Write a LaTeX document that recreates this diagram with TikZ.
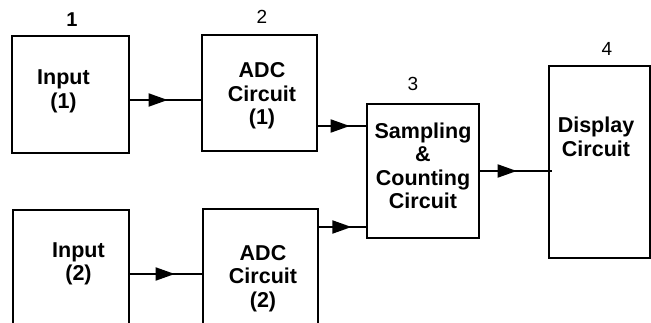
\documentclass[tikz,border=0pt]{standalone}
\usepackage{fontspec}
\setmainfont{Liberation Sans}
\usetikzlibrary{arrows.meta,decorations.markings}

\begin{document}
\begin{tikzpicture}[
  x=1pt, y=-1pt,
  block/.style = {draw, line width=1.8pt, inner sep=0pt},
  txt/.style   = {font=\fontsize{21.5}{23.5}\selectfont\bfseries, align=center, inner sep=0pt},
  num/.style   = {font=\fontsize{19}{20}\selectfont, inner sep=0pt},
  wire/.style  = {line width=1.8pt},
  head/.style  = {postaction=decorate, decoration={markings,
                  mark=at position #1 with {\arrow{Triangle[length=19pt,width=13pt]}}}},
]
  \useasboundingbox (0,0) rectangle (651,323);

  % boxes (pixel grid, y down); the lower row runs off the bottom edge
  \node[block, minimum width=117pt, minimum height=117pt] (in1)  at (70.5,94.5) {};
  \node[block, minimum width=115pt, minimum height=116pt] (adc1) at (259.5,93)  {};
  \node[block, minimum width=116pt, minimum height=130pt] (in2)  at (71,275)    {};
  \node[block, minimum width=115pt, minimum height=136pt] (adc2) at (260.5,277) {};
  \node[block, minimum width=112pt, minimum height=134pt] (samp) at (423,171)   {};
  \node[block, minimum width=101pt, minimum height=192pt] (disp) at (599.5,162) {};

  % texts
  \node[txt] (in1txt)  at (63.5,91.5) {Input\\(1)};
  \node[txt] (adc1txt) at (262,96)    {ADC\\Circuit\\(1)};
  \node[txt] (in2txt)  at (78.5,264)  {Input\\(2)};
  \node[txt] (adc2txt) at (263,278.5) {ADC\\Circuit\\(2)};
  \node[txt] (samptxt) at (423,166)   {Sampling\\\&\\Counting\\Circuit};
  \node[txt] (disptxt) at (596,137)   {Display\\Circuit};

  % numbers over the boxes
  \node[num, font=\fontsize{20}{20}\selectfont\bfseries] (n1) at (72,19.5) {1};
  \node[num] (n2) at (262,16.5) {2};
  \node[num] (n3) at (413,83.5) {3};
  \node[num] (n4) at (607,48.5) {4};

  % ends on the sampling block
  \coordinate (s1) at ([yshift=45pt]samp.west);
  \coordinate (s2) at ([yshift=-56pt]samp.west);
  \coordinate (d1) at ([xshift=4pt]disp.west |- samp.east);

  \draw[wire, head=0.53] ([yshift=-5.5pt]in1.east) -- ([yshift=-5.5pt]in1.east -| adc1.west);
  \draw[wire, head=0.62] ([yshift=1pt]in2.east) -- ([yshift=1pt]in2.east -| adc2.west);
  \draw[wire, head=0.66] (adc1.east |- s1) -- (s1);
  \draw[wire, head=0.69] (adc2.east |- s2) -- (s2);
  \draw[wire, head=0.51] (samp.east) -- (d1);
\end{tikzpicture}
\end{document}
